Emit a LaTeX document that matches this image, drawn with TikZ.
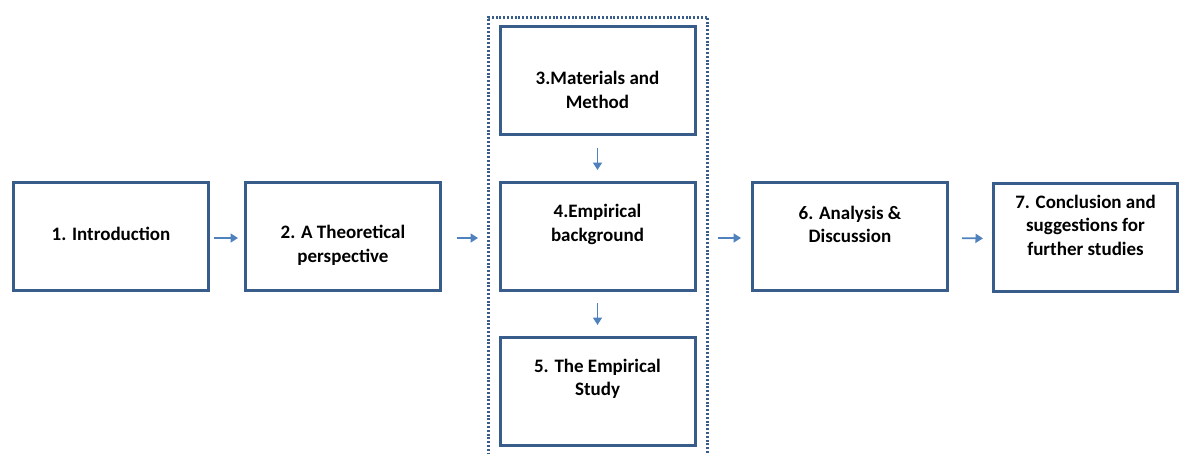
\documentclass[tikz,border=0pt]{standalone}
\usepackage{fontspec}
\setmainfont{Carlito}
\usetikzlibrary{arrows.meta}
\definecolor{boxc}{HTML}{385D8A}
\definecolor{arrc}{HTML}{4F81BD}
\begin{document}
\begin{tikzpicture}[x=1pt,y=-1pt,
 box/.style={draw=boxc,line width=3pt,fill=white,minimum width=195pt,minimum height=108pt,inner sep=0pt},
 txt/.style={font=\bfseries\fontsize{19}{23.5}\selectfont,align=center,inner sep=0pt},
 arr/.style={draw=arrc,line width=1.7pt,-{Triangle[length=7.5pt,width=9pt]}},
 group/.style={draw=boxc,line width=3pt,dash pattern=on 2pt off 1.8pt,inner sep=0pt,minimum width=219pt,minimum height=445pt}]
\useasboundingbox (0,0) rectangle (1181,453);
\node[group] (grp) at (598,239.5) {};
\node[box] (b1) at (111,236.5) {};
\node[box] (b2) at (343,236.5) {};
\node[box] (b3) at (597.5,80.5) {};
\node[box] (b4) at (597.5,236.5) {};
\node[box] (b5) at (597.5,391.5) {};
\node[box] (b6) at (850,236.5) {};
\node[box,minimum width=184pt] (b7) at (1085.5,237) {};
\node[txt] (t1) at (111,234) {1. Introduction};
\node[txt] (t2) at (343,245.5) {2. A Theoretical\\perspective};
\node[txt] (t3) at (597.5,90) {3.Materials and\\Method};
\node[txt] (t4) at (597.5,224.5) {4.Empirical\\background};
\node[txt] (t5) at (597.5,379) {5. The Empirical\\Study};
\node[txt] (t6) at (850,224.5) {6. Analysis \&\\Discussion};
\node[txt] (t7) at (1085.5,225) {7. Conclusion and\\suggestions for\\further studies};
\draw[arr,shorten <=4pt,shorten >=6pt] ([yshift=-1.5pt]b1.east) -- ([yshift=-1.5pt]b2.west);
\draw[arr,shorten <=15pt,shorten >=9pt] ([yshift=-1.5pt]b2.east) -- ([yshift=-1.5pt]b2.east -| grp.west);
\draw[arr,shorten <=9pt,shorten >=10pt] ([yshift=-1.5pt]b6.west -| grp.east) -- ([yshift=-1.5pt]b6.west);
\draw[arr,shorten <=13pt,shorten >=9pt] ([yshift=-1.5pt]b6.east) -- ([yshift=-1.5pt]b7.west);
\draw[arr,shorten <=12pt,shorten >=11pt] (b3.south) -- (b4.north);
\draw[arr,shorten <=11pt,shorten >=11pt] (b4.south) -- (b5.north);
\end{tikzpicture}
\end{document}
